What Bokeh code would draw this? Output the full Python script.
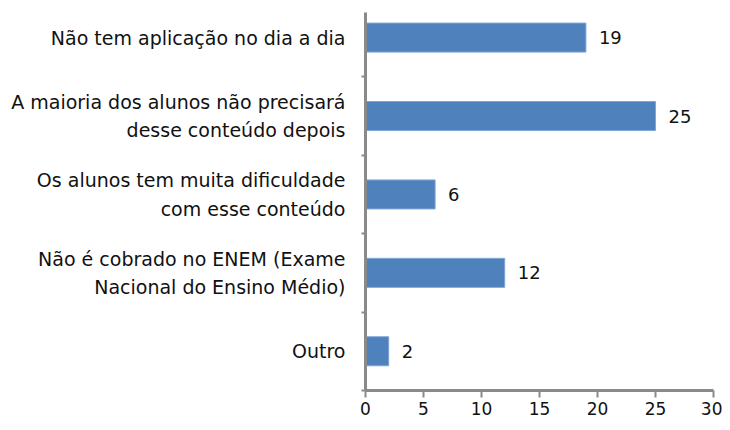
from bokeh.plotting import figure
from bokeh.models import Range1d, FixedTicker, ColumnDataSource
from bokeh.core.properties import value
from bokeh.embed import file_html
from bokeh.resources import INLINE

# ---- data ----
categories = [
    "Não tem aplicação no dia a dia",
    "A maioria dos alunos não precisará\ndesse conteúdo depois",
    "Os alunos tem muita dificuldade\ncom esse conteúdo",
    "Não é cobrado no ENEM (Exame\nNacional do Ensino Médio)",
    "Outro",
]
counts = [19, 25, 6, 12, 2]
x_ticks = [0, 5, 10, 15, 20, 25, 30]

n = len(categories)
positions = [n - i - 0.5 for i in range(n)]   # top to bottom
boundaries = [float(i) for i in range(n)]

FONT = "DejaVu Sans"
AXIS_COLOR = "#8a8a8a"

src = ColumnDataSource(dict(pos=positions, count=counts,
                            label=[str(c) for c in counts]))

p = figure(width=722, height=422, output_backend="svg", toolbar_location=None,
           x_range=Range1d(0, 30), y_range=Range1d(0, 4.82),
           min_border_left=365, min_border_right=9,
           min_border_top=12, min_border_bottom=32)
p.outline_line_color = None
p.background_fill_color = "white"
p.border_fill_color = "white"
p.xgrid.visible = False
p.ygrid.visible = False

p.hbar(y="pos", right="count", left=0, height=0.37, source=src,
       fill_color="#4F81BD", line_color="#7ea6d6", line_width=1)

p.text(x="count", y="pos", text="label", source=src, x_offset=13,
       text_baseline="middle", text_align="left",
       text_font=value(FONT), text_font_size="18px", text_color="#111111")

# y axis
ya = p.yaxis[0]
ya.ticker = FixedTicker(ticks=positions, minor_ticks=boundaries)
ya.major_label_overrides = {pos: cat for pos, cat in zip(positions, categories)}
ya.major_tick_out = 0
ya.major_tick_in = 0
ya.minor_tick_out = 4
ya.minor_tick_in = 0
ya.minor_tick_line_color = AXIS_COLOR
ya.minor_tick_line_width = 2
ya.axis_line_color = AXIS_COLOR
ya.axis_line_width = 3
ya.major_label_standoff = 16
ya.major_label_text_font = FONT
ya.major_label_text_font_size = "19px"
ya.major_label_text_color = "#111111"
ya.major_label_text_line_height = 1.3
ya.major_label_text_align = "center"

# x axis
xa = p.xaxis[0]
xa.ticker = FixedTicker(ticks=x_ticks, minor_ticks=[])
xa.major_tick_out = 7
xa.major_tick_in = 0
xa.major_tick_line_color = AXIS_COLOR
xa.major_tick_line_width = 2
xa.axis_line_color = AXIS_COLOR
xa.axis_line_width = 3
xa.major_label_standoff = 4
xa.major_label_text_font = FONT
xa.major_label_text_font_size = "17px"
xa.major_label_text_color = "#111111"

open("out.html", "w").write(file_html(p, INLINE))
